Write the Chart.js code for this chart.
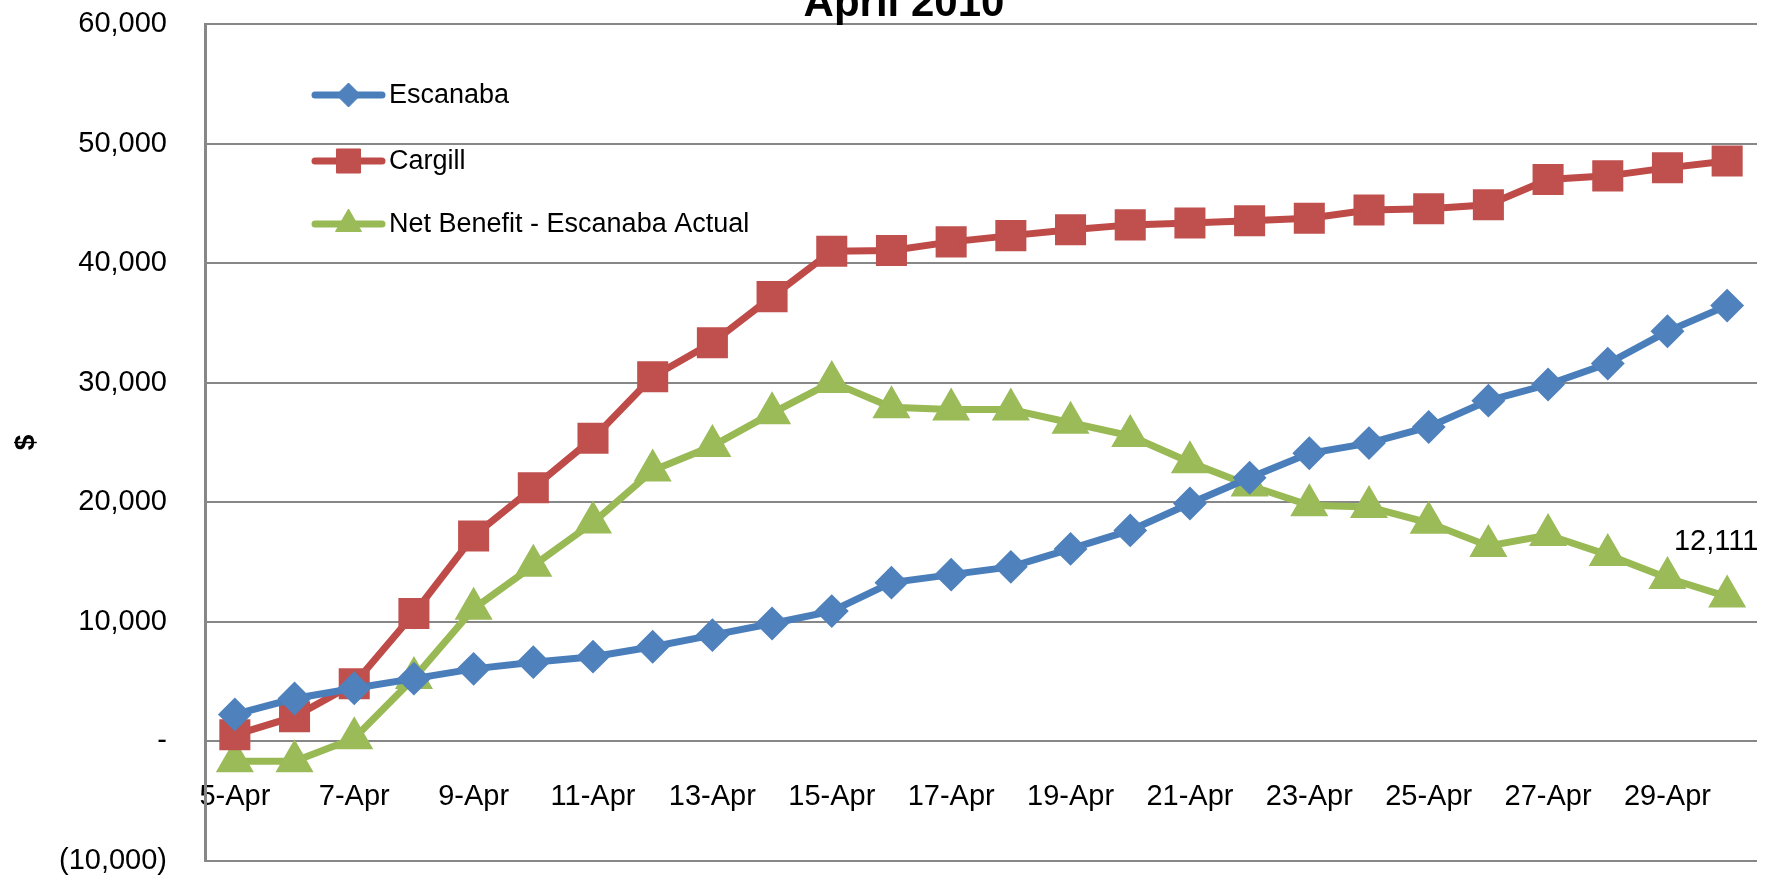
<!DOCTYPE html>
<html>
<head>
<meta charset="utf-8">
<script src="https://cdn.jsdelivr.net/npm/chart.js@4.4.1/dist/chart.umd.min.js"></script>
<style>
html, body { margin: 0; padding: 0; background: #fff; }
#wrap { position: relative; width: 1784px; height: 885px; }
</style>
</head>
<body>
<div id="wrap"><canvas id="chart" width="1784" height="885"></canvas></div>
<script>
const days = ['5-Apr', '6-Apr', '7-Apr', '8-Apr', '9-Apr', '10-Apr', '11-Apr', '12-Apr', '13-Apr',
    '14-Apr', '15-Apr', '16-Apr', '17-Apr', '18-Apr', '19-Apr', '20-Apr', '21-Apr', '22-Apr',
    '23-Apr', '24-Apr', '25-Apr', '26-Apr', '27-Apr', '28-Apr', '29-Apr', '30-Apr'];

const escanaba = [2260, 3590, 4450, 5250, 6070, 6630, 7090, 7920, 8890, 9860, 10900, 13280, 13950,
    14600, 16100, 17650, 19900, 22050, 24100, 24950, 26300, 28500, 29850, 31600, 34300, 36450];

const cargill = [550, 2070, 4830, 10700, 17180, 21210, 25350, 30500, 33350, 37200, 41000, 41050, 41780,
    42300, 42800, 43200, 43350, 43550, 43750, 44450, 44550, 44880, 47000, 47300, 47970, 48550];

const netBenefit = [-1650, -1650, 270, 5300, 11100, 14700, 18300, 22650, 24700, 27450, 30050, 27950, 27750,
    27750, 26650, 25550, 23350, 21400, 19750, 19600, 18280, 16350, 17260, 15600, 13670, 12111];

const yTicks = [-10000, 0, 10000, 20000, 30000, 40000, 50000, 60000];

const chartTitle = 'April 2010';
const lastLabel = '12,111';

const FONT = '"Liberation Sans", Arial, sans-serif';
const gridColor = '#878787';

function formatY(v) {
    if (v === 0) return '-';
    const s = Math.abs(v).toLocaleString('en-US');
    return v < 0 ? '(' + s + ')' : s;
}

function marker(ctx, style, radius, color, x, y) {
    ctx.save();
    ctx.fillStyle = color;
    ctx.strokeStyle = color;
    ctx.lineWidth = 1;
    if (Chart.helpers && Chart.helpers.drawPoint) {
        Chart.helpers.drawPoint(ctx, { pointStyle: style, radius: radius, rotation: 0, borderWidth: 1 }, x, y);
    }
    ctx.restore();
}

// title sits partly above the canvas, like the cropped original
const titlePlugin = {
    id: 'cutTitle',
    afterDraw(chart) {
        const ctx = chart.ctx;
        ctx.save();
        ctx.font = 'bold 42px ' + FONT;
        ctx.fillStyle = '#000';
        ctx.textAlign = 'center';
        ctx.textBaseline = 'alphabetic';
        ctx.fillText(chartTitle, 904, 16);
        ctx.restore();
    }
};

// Excel-style legend inside the plot area
const legendPlugin = {
    id: 'innerLegend',
    afterDraw(chart) {
        const ctx = chart.ctx;
        const area = chart.chartArea;
        const x1 = area.left + 110, x2 = area.left + 177, tx = area.left + 184;
        const rows = [area.top + 71, area.top + 137, area.top + 200];
        chart.data.datasets.forEach((ds, i) => {
            const y = rows[i];
            ctx.save();
            ctx.strokeStyle = ds.borderColor;
            ctx.lineWidth = ds.borderWidth;
            ctx.lineCap = 'round';
            ctx.beginPath();
            ctx.moveTo(x1, y);
            ctx.lineTo(x2, y);
            ctx.stroke();
            ctx.restore();
            marker(ctx, ds.pointStyle, ds.pointRadius, ds.pointBackgroundColor, (x1 + x2) / 2, y);
            ctx.save();
            ctx.font = '27px ' + FONT;
            ctx.fillStyle = '#000';
            ctx.textAlign = 'left';
            ctx.textBaseline = 'middle';
            ctx.fillText(ds.label, tx, y + 1);
            ctx.restore();
        });
    }
};

// value label on the last Net Benefit point
const lastLabelPlugin = {
    id: 'lastLabel',
    afterDatasetsDraw(chart) {
        const meta = chart.getDatasetMeta(2);
        const pt = meta.data[meta.data.length - 1];
        const ctx = chart.ctx;
        ctx.save();
        ctx.font = '29px ' + FONT;
        ctx.fillStyle = '#000';
        ctx.textAlign = 'center';
        ctx.textBaseline = 'middle';
        ctx.fillText(lastLabel, pt.x - 11, pt.y - 55);
        ctx.restore();
    }
};

new Chart(document.getElementById('chart').getContext('2d'), {
    type: 'line',
    data: {
        labels: days,
        datasets: [{
            label: 'Escanaba',
            data: escanaba,
            borderColor: '#4A7EBB',
            borderWidth: 7,
            pointStyle: 'rectRot',
            pointRadius: 12,
            pointBackgroundColor: '#4F81BD',
            pointBorderColor: '#4F81BD',
            tension: 0
        }, {
            label: 'Cargill',
            data: cargill,
            borderColor: '#BE4B48',
            borderWidth: 7,
            pointStyle: 'rect',
            pointRadius: 17,
            pointBackgroundColor: '#C0504D',
            pointBorderColor: '#C0504D',
            tension: 0
        }, {
            label: 'Net Benefit - Escanaba Actual',
            data: netBenefit,
            borderColor: '#98B954',
            borderWidth: 7,
            pointStyle: 'triangle',
            pointRadius: 15,
            pointBackgroundColor: '#9BBB59',
            pointBorderColor: '#9BBB59',
            tension: 0
        }]
    },
    options: {
        responsive: false,
        animation: false,
        layout: {
            padding: { top: 19, bottom: 18, right: 27, left: 0 }
        },
        plugins: {
            legend: { display: false },
            title: { display: false },
            tooltip: { enabled: false }
        },
        scales: {
            x: {
                position: { y: 0 },
                offset: true,
                grid: { display: false, drawTicks: false },
                border: { display: false },
                afterFit: (scale) => {
                    scale.paddingLeft = 0;
                    scale.paddingRight = 0;
                },
                ticks: {
                    autoSkip: false,
                    maxRotation: 0,
                    padding: 38,
                    color: '#000',
                    font: { family: FONT, size: 29 },
                    callback: (v, i) => (i % 2 === 0 ? days[i] : '')
                }
            },
            y: {
                min: -10000,
                max: 60000,
                afterBuildTicks: (scale) => {
                    scale.ticks = yTicks.map(v => ({ value: v }));
                },
                afterFit: (scale) => {
                    scale.width = 205;
                    scale.paddingTop = 0;
                    scale.paddingBottom = 0;
                },
                grid: { color: gridColor, lineWidth: 2, drawTicks: false },
                border: { display: true, color: gridColor, width: 3 },
                ticks: {
                    padding: 38,
                    color: '#000',
                    font: { family: FONT, size: 29 },
                    callback: (v) => formatY(v)
                },
                title: {
                    display: true,
                    text: '$',
                    color: '#000',
                    font: { family: FONT, size: 28, weight: 'bold' },
                    padding: { top: 9, bottom: 0 }
                }
            }
        }
    },
    plugins: [titlePlugin, legendPlugin, lastLabelPlugin]
});
</script>
</body>
</html>
